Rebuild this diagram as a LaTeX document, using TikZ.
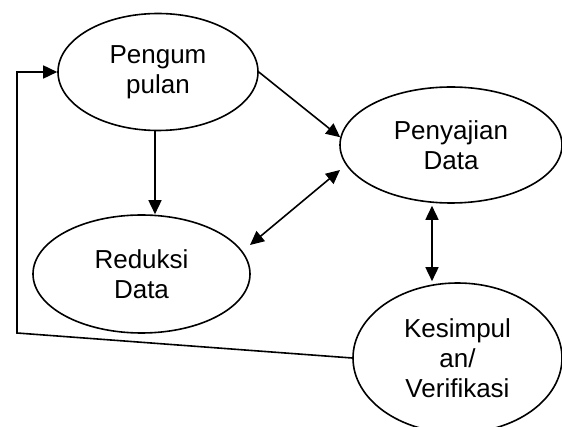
\documentclass[tikz,border=0pt]{standalone}
\usepackage{fontspec}
\setmainfont{Liberation Sans}
\usetikzlibrary{shapes.geometric,arrows.meta,calc}
\begin{document}
\begin{tikzpicture}[x=1pt,y=-1pt,
  bub/.style={draw,ellipse,line width=1.6pt,inner sep=0pt,align=center,
    font=\fontsize{26}{30}\selectfont},
  arr/.style={line width=1.6pt,-{Triangle[length=14pt,width=13pt]}},
  darr/.style={line width=1.6pt,{Triangle[length=14pt,width=13pt]}-{Triangle[length=14pt,width=13pt]}}]
\useasboundingbox (0,0) rectangle (562,427);
\node[bub,minimum width=200pt,minimum height=117pt] (p) at (158,72) {Pengum\\pulan};
\node[bub,minimum width=222pt,minimum height=116pt] (s) at (451,145) {Penyajian\\Data};
\node[bub,minimum width=217pt,minimum height=118pt] (r) at (141.5,274) {Reduksi\\Data};
\node[bub,minimum width=209pt,minimum height=150pt] (k) at (457.5,358) {Kesimpul\\an/\\Verifikasi};
\coordinate (c) at (17,333);
\draw[arr] ($(p.south)+(-3,0)$) -- ($(r.north)+(13.5,0)$);
\draw[arr] (p.east) -- (s.176);
\draw[darr] ($(r.center)+(108.5,-29)$) -- ($(s.center)+(-111,25)$);
\draw[darr] ($(s.south)+(-19,2)$) -- ($(k.north)+(-25.5,-1)$);
\draw[arr] (k.west) -- (c) |- (p.west);
\end{tikzpicture}
\end{document}
